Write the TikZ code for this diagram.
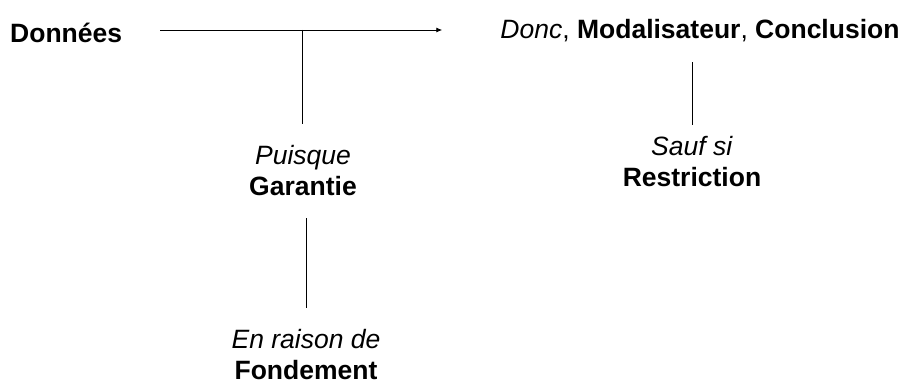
\documentclass[tikz,border=0pt]{standalone}
\usepackage{fontspec}
\setmainfont{Liberation Sans}
\usetikzlibrary{arrows.meta}
\tikzset{
    texte/.style={inner sep=0pt, align=center, font=\fontsize{26.5}{31}\selectfont},
    trait/.style={line width=0.9pt}
}
\begin{document}
\begin{tikzpicture}[x=1pt, y=-1pt]
            \useasboundingbox (0, 0) rectangle (903, 385);
            % Elements
            \node [texte, anchor=west] (donnees) at (10, 33) {\textbf{Données}};
            \node [texte] (conclusion) at (700, 31) {\textit{Donc}, \textbf{Modalisateur}, \textbf{Conclusion}};
            \node [texte] (garantie) at (303, 171) {\textit{Puisque}\\\textbf{Garantie}};
            \node [texte] (restriction) at (692, 162) {\textit{Sauf si}\\\textbf{Restriction}};
            \node [texte] (fondement) at (306, 355) {\textit{En raison de}\\\textbf{Fondement}};
            \coordinate (jonction) at (302, 30);
            % Liens
            \draw [trait, -{Latex[length=6pt, width=5pt]}, shorten <=38pt, shorten >=58pt] (donnees.east |- jonction) -- (conclusion.west |- jonction);
            \draw [trait] (jonction) -- ([yshift=22pt]garantie.north -| jonction);
            \draw [trait] ([yshift=-20pt]conclusion.south -| restriction) -- ([yshift=12pt]restriction.north);
            \draw [trait] ([yshift=-22pt]garantie.south -| fondement) -- ([yshift=22pt]fondement.north);
        \end{tikzpicture}
\end{document}
